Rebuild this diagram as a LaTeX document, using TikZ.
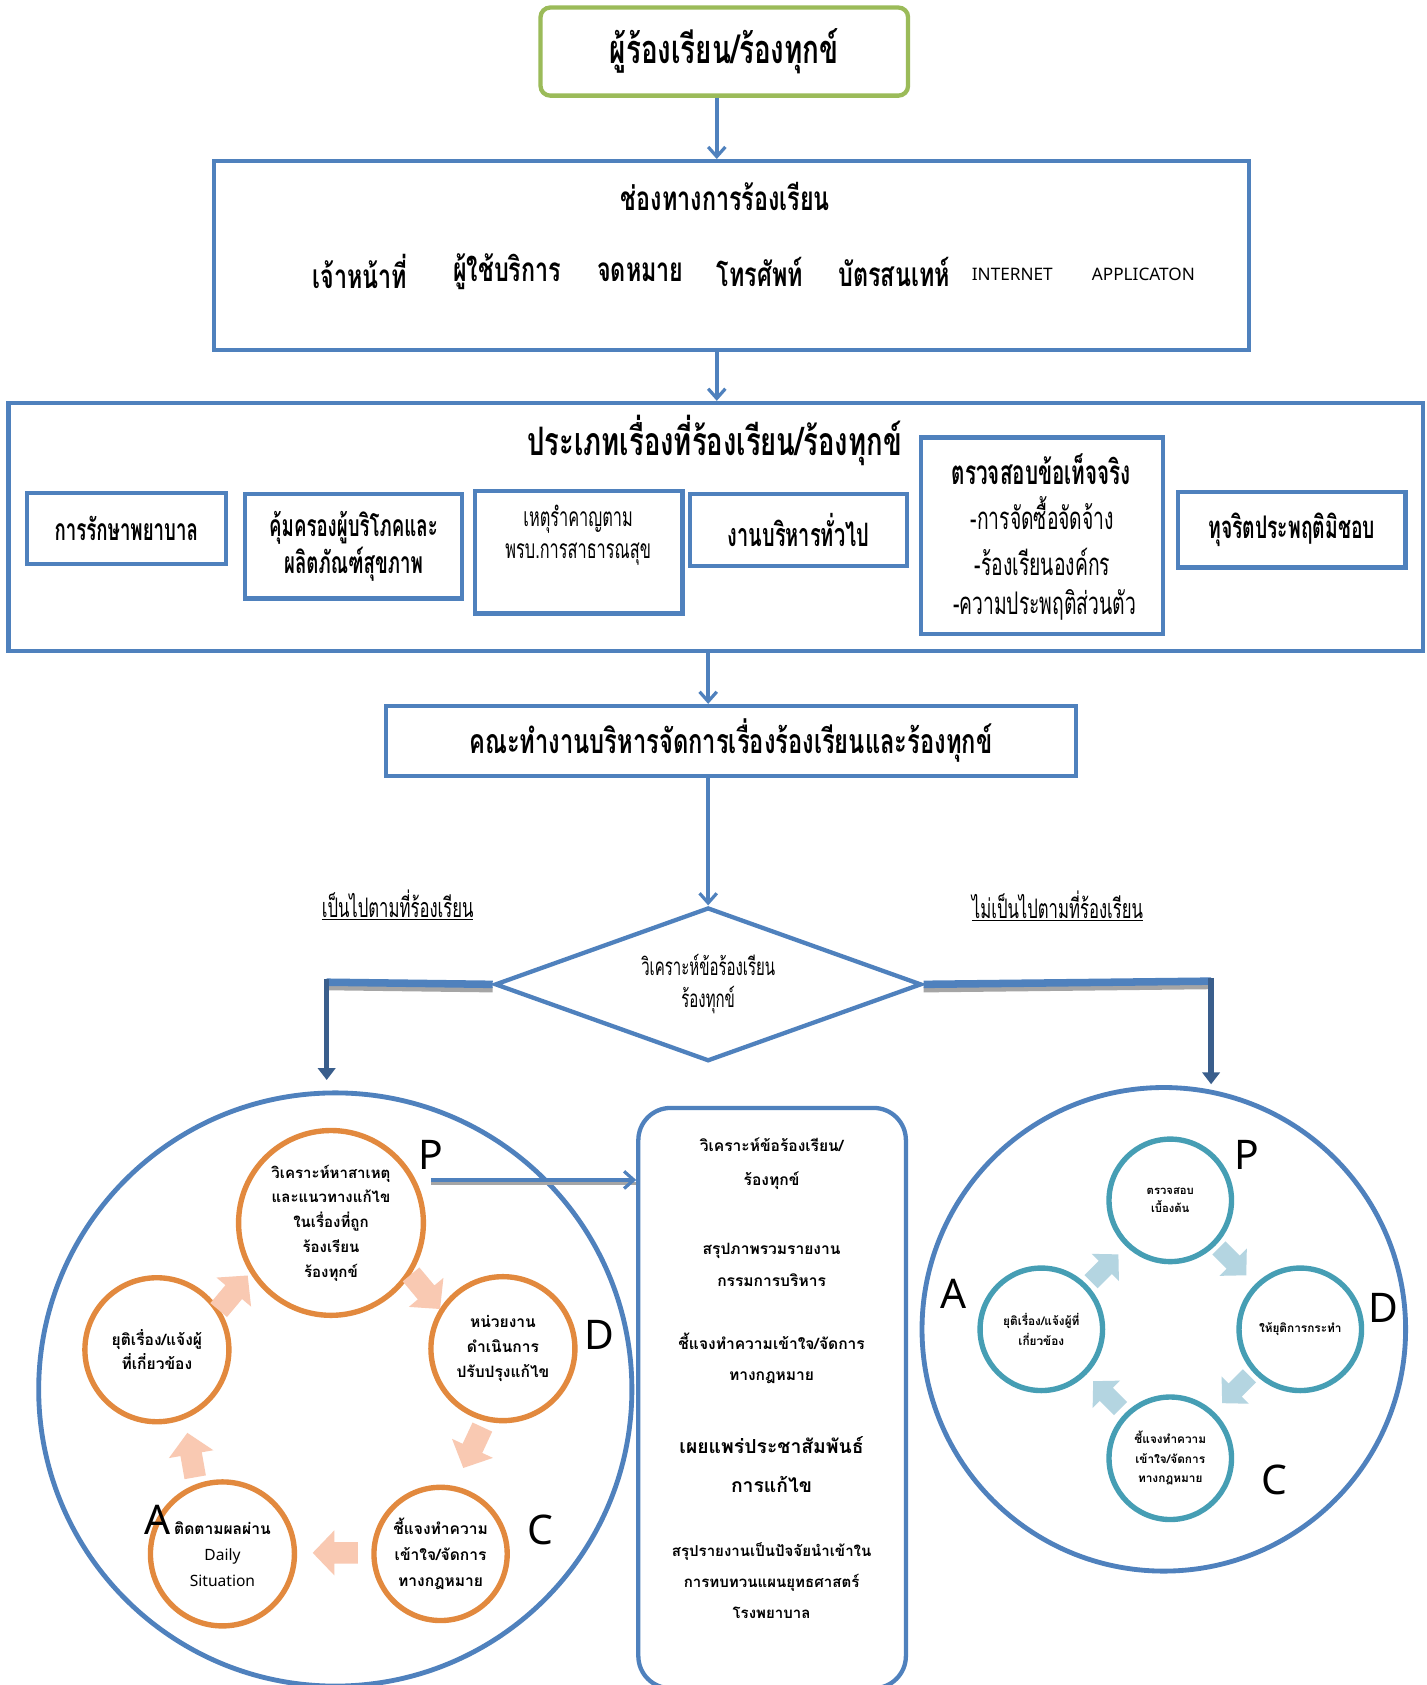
\documentclass[tikz,border=0pt]{standalone}
\usepackage{fontspec}
\setmainfont{Noto Sans}
\newfontfamily\thai[Script=Thai]{Loma}
\newfontfamily\thn[Script=Thai,FakeStretch=0.62]{Loma}
\newfontfamily\thw[Script=Thai,FakeStretch=0.70]{Loma}
\usetikzlibrary{arrows.meta,shapes.geometric,calc}
\newcommand{\setfs}[2]{\fontsize{#1}{#2}\selectfont}
\definecolor{bxblue}{RGB}{79,129,189}
\definecolor{dkblue}{RGB}{58,94,140}
\definecolor{grn}{RGB}{155,187,89}
\definecolor{org}{RGB}{226,137,62}
\definecolor{peach}{RGB}{249,201,178}
\definecolor{tealc}{RGB}{70,158,180}
\definecolor{ltblue}{RGB}{180,213,225}
\definecolor{shgray}{RGB}{165,165,165}
\tikzset{
  bbox/.style={draw=bxblue, line width=4pt, inner sep=0pt, align=center},
  txt/.style={inner sep=0pt, align=center},
  conn/.style={draw=bxblue, line width=3.5pt, -{Straight Barb[length=9pt,width=16pt,line width=3pt]}},
  branchh/.style={draw=bxblue, line width=7pt},
  branchsh/.style={draw=shgray, line width=5pt},
  branchv/.style={draw=dkblue, line width=5pt, -{Triangle[length=11pt,width=16pt]}},
  bigc/.style={circle, draw=bxblue, line width=4.5pt, inner sep=0pt},
  oc/.style={circle, draw=org, line width=5pt, inner sep=0pt, align=center},
  tc/.style={circle, draw=tealc, line width=5pt, inner sep=0pt, align=center},
  pdca/.style={inner sep=0pt, font=\rmfamily\setfs{38}{40}},
  blk/.pic={\fill[pic actions] (-0.5,-0.24) -- (0.02,-0.24) -- (0.02,-0.5) -- (0.5,0) -- (0.02,0.5) -- (0.02,0.24) -- (-0.5,0.24) -- cycle;}
}
\begin{document}
\begin{tikzpicture}[x=1pt,y=-1pt]
\useasboundingbox (0,0) rectangle (1327,1568);
\fill[white] (0,0) rectangle (1327,1568);

% top box
\node[draw=grn, line width=4pt, rounded corners=9pt, minimum width=342pt, minimum height=82pt, inner sep=0pt,
      font=\thw\bfseries\setfs{37}{40}] (comp) at (674,48) {ผู้ร้องเรียน/ร้องทุกข์};

% channels
\node[bbox, minimum width=963pt, minimum height=176pt] (chan) at (680.5,238) {};
\node[txt, font=\thw\bfseries\setfs{31}{34}] (chant) at (675,183) {ช่องทางการร้องเรียน};
\node[txt, font=\thw\bfseries\setfs{31}{34}] (ch1) at (335,253) {เจ้าหน้าที่};
\node[txt, font=\thw\bfseries\setfs{31}{34}] (ch2) at (472,253) {ผู้ใช้บริการ};
\node[txt, font=\thw\bfseries\setfs{31}{34}] (ch3) at (596,253) {จดหมาย};
\node[txt, font=\thw\bfseries\setfs{31}{34}] (ch4) at (707,253) {โทรศัพท์};
\node[txt, font=\thw\bfseries\setfs{31}{34}] (ch5) at (832,253) {บัตรสนเทห์};
\node[txt, font=\rmfamily\setfs{16}{18}] (ch6) at (942,255) {INTERNET};
\node[txt, font=\rmfamily\setfs{16}{18}] (ch7) at (1064,255) {APPLICATON};

% types
\node[bbox, minimum width=1316pt, minimum height=231pt] (types) at (666,490.5) {};
\node[txt, font=\thw\bfseries\setfs{36.5}{40}] (typest) at (665,410) {ประเภทเรื่องที่ร้องเรียน/ร้องทุกข์};
\node[bbox, minimum width=185pt, minimum height=66pt, font=\thn\bfseries\setfs{28}{34}] (ta) at (117.5,492) {การรักษาพยาบาล};
\node[bbox, minimum width=202pt, minimum height=97pt, font=\thn\bfseries\setfs{28}{34}] (tb) at (329,508.5) {คุ้มครองผู้บริโภคและ\\ผลิตภัณฑ์สุขภาพ};
\node[bbox, minimum width=193pt, minimum height=114pt] (tc) at (538.5,514) {};
\node[txt, font=\thn\setfs{24.5}{30}] (tc1) at (538,483) {เหตุรำคาญตาม};
\node[txt, font=\thn\setfs{24.5}{30}] (tc2) at (538,516) {พรบ.การสาธารณสุข};
\node[bbox, minimum width=202pt, minimum height=67pt, font=\thn\bfseries\setfs{30}{34}] (td) at (743,493.5) {งานบริหารทั่วไป};
\node[bbox, minimum width=225pt, minimum height=183pt] (te) at (969.5,498.5) {};
\node[txt, font=\thn\bfseries\setfs{31}{34}] (te1) at (969,437) {ตรวจสอบข้อเท็จจริง};
\node[txt, font=\thn\setfs{29}{34}] (te2) at (970,477) {-การจัดซื้อจัดจ้าง};
\node[txt, font=\thn\setfs{29}{34}] (te3) at (970,523) {-ร้องเรียนองค์กร};
\node[txt, font=\thn\setfs{29}{34}] (te4) at (972,563) {-ความประพฤติส่วนตัว};
\node[bbox, minimum width=212pt, minimum height=70pt, font=\thn\bfseries\setfs{29}{34}] (tf) at (1202,493) {ทุจริตประพฤติมิชอบ};

% working group
\node[bbox, minimum width=642pt, minimum height=65pt, font=\thw\bfseries\setfs{31.5}{36}] (wg) at (680,689.5) {คณะทำงานบริหารจัดการเรื่องร้องเรียนและร้องทุกข์};

% diamond
\node[diamond, draw=bxblue, line width=4pt, inner sep=0pt, minimum width=397pt, minimum height=143pt, aspect=2.78,
      align=center, font=\thn\setfs{22.5}{30}] (dia) at (659,916) {วิเคราะห์ข้อร้องเรียน\\ร้องทุกข์};

\node[txt, font=\thn\setfs{25}{30}] (lyes) at (370,842) {\underline{เป็นไปตามที่ร้องเรียน}};
\node[txt, font=\thn\setfs{25}{30}] (lno) at (984,843) {\underline{ไม่เป็นไปตามที่ร้องเรียน}};

% connectors top
\draw[conn] (comp.south -| 667,0) -- (chan.north -| 667,0);
\draw[conn] (chan.south -| 667,0) -- (types.north -| 667,0);
\draw[conn] (types.south -| dia.north) -- (wg.north -| dia.north);
\draw[conn] (wg.south -| dia.north) -- (dia.north);

% branches
\coordinate (lc) at (304,914);
\coordinate (le) at (304,1005);
\coordinate (rc) at (1127,913);
\coordinate (re) at (1127,1009);
\draw[branchsh] ([yshift=-5pt]dia.west) -- ([yshift=-5pt]lc);
\draw[branchh] (dia.west) -- (lc);
\draw[branchsh] ([yshift=-5pt]dia.east) -- ([yshift=-5pt]rc);
\draw[branchh] (dia.east) -- (rc);
\draw[branchv] ([yshift=3pt]lc) -- (le);
\draw[branchv] ([yshift=3pt]rc) -- (re);

% left big circle
\node[bigc, minimum size=552pt] (bigL) at (312,1293) {};
\node[oc, minimum size=172pt, font=\thai\bfseries\setfs{14}{23}] (lp) at (308,1138) {วิเคราะห์หาสาเหตุ\\และแนวทางแก้ไข\\ในเรื่องที่ถูก\\ร้องเรียน\\ร้องทุกข์};
\node[oc, minimum size=134pt, font=\thai\bfseries\setfs{14.5}{23}] (ld) at (468,1255) {หน่วยงาน\\ดำเนินการ\\ปรับปรุงแก้ไข};
\node[oc, minimum size=124pt, font=\thai\bfseries\setfs{14.5}{24}] (lcc) at (410,1446) {ชี้แจงทำความ\\เข้าใจ/จัดการ\\ทางกฎหมาย};
\node[oc, minimum size=134pt, font=\thai\bfseries\setfs{14.5}{24}] (la) at (207,1446) {ติดตามผลผ่าน\\{\rmfamily Daily}\\{\rmfamily Situation}};
\node[oc, minimum size=134pt, font=\thai\bfseries\setfs{14.5}{22}] (ll) at (146,1256) {ยุติเรื่อง/แจ้งผู้\\ที่เกี่ยวข้อง};
\pic[fill=peach, rotate=50, scale=42] at (217,1203) {blk};
\pic[fill=peach, rotate=-50, scale=42] at (396,1202) {blk};
\pic[fill=peach, rotate=-115, scale=42] at (440,1347) {blk};
\pic[fill=peach, rotate=180, scale=42] at (312,1445) {blk};
\pic[fill=peach, rotate=100, scale=42] at (178,1354) {blk};
\node[pdca] (lP) at (401,1075) {P};
\node[pdca] (lD) at (558,1242) {D};
\node[pdca] (lC) at (503,1424) {C};
\node[pdca] (lA) at (147,1414) {A};

% middle box
\node[draw=bxblue, line width=4pt, rounded corners=30pt, minimum width=249pt, minimum height=540pt, inner sep=0pt] (mid) at (718.5,1301) {};
\node[txt, font=\thai\bfseries\setfs{14.5}{31}] (m1) at (718,1083) {วิเคราะห์ข้อร้องเรียน/\\ร้องทุกข์};
\node[txt, font=\thai\bfseries\setfs{14.5}{29}] (m2) at (718,1177) {สรุปภาพรวมรายงาน\\กรรมการบริหาร};
\node[txt, font=\thai\bfseries\setfs{14.5}{29}] (m3) at (718,1264) {ชี้แจงทำความเข้าใจ/จัดการ\\ทางกฎหมาย};
\node[txt, font=\thai\bfseries\setfs{18}{36}] (m4) at (718,1363) {เผยแพร่ประชาสัมพันธ์\\การแก้ไข};
\node[txt, font=\thai\bfseries\setfs{14}{29}] (m5) at (718,1471) {สรุปรายงานเป็นปัจจัยนำเข้าใน\\การทบทวนแผนยุทธศาสตร์\\โรงพยาบาล};
\coordinate (ps) at (401,1098);
\draw[draw=shgray, line width=3pt] ([yshift=-3pt]ps) -- ([yshift=-3pt]mid.west |- ps);
\draw[conn] (ps) -- (mid.west |- ps);

% right big circle
\node[bigc, minimum size=450pt] (bigR) at (1083,1237) {};
\node[tc, minimum size=114pt, font=\thai\bfseries\setfs{10.5}{17}] (rp) at (1089,1117) {ตรวจสอบ\\เบื้องต้น};
\node[tc, minimum size=114pt, font=\thai\bfseries\setfs{11}{17}] (rd) at (1210,1237) {ให้ยุติการกระทำ};
\node[tc, minimum size=114pt, font=\thai\bfseries\setfs{11}{18}] (rcc) at (1089,1357) {ชี้แจงทำความ\\เข้าใจ/จัดการ\\ทางกฎหมาย};
\node[tc, minimum size=114pt, font=\thai\bfseries\setfs{11}{18}] (ra) at (969,1237) {ยุติเรื่อง/แจ้งผู้ที่\\เกี่ยวข้อง};
\pic[fill=ltblue, rotate=45, scale=36] at (1028,1180) {blk};
\pic[fill=ltblue, rotate=-45, scale=36] at (1147,1174) {blk};
\pic[fill=ltblue, rotate=-135, scale=36] at (1150,1293) {blk};
\pic[fill=ltblue, rotate=135, scale=36] at (1030,1298) {blk};
\node[pdca] (rP) at (1160,1075) {P};
\node[pdca] (rD) at (1287,1217) {D};
\node[pdca] (rC) at (1186,1377) {C};
\node[pdca] (rA) at (887,1204) {A};
\end{tikzpicture}
\end{document}
